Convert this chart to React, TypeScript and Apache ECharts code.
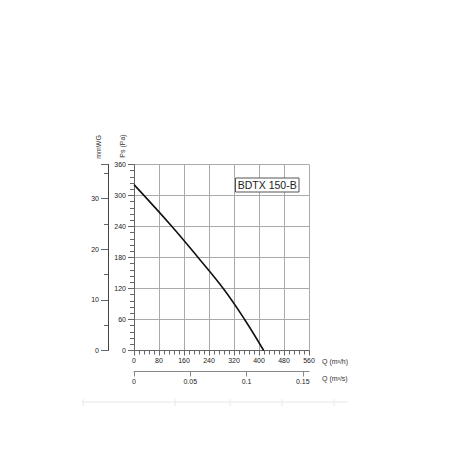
import React, { useEffect, useRef } from "react";
import * as echarts from "echarts";

const flowM3h = [0, 120, 205, 288, 354, 415];
const pressurePa = [321, 241, 180, 118, 60, 0];
const modelName = "BDTX 150-B";
const qMaxM3h = 560;
const pMaxPa = 360;
const PA_PER_MMWG = 9.80665;

const FONT = "Liberation Sans, Arial, sans-serif";

export default function App() {
  const ref = useRef<HTMLDivElement>(null);
  useEffect(() => {
    if (!ref.current) return;
    const chart = echarts.init(ref.current, undefined, { renderer: "svg" });
    const axisColor = "#666";
    const label = { color: "#222", fontSize: 7, fontFamily: FONT };
    const faint = "#e8e8e8";
    const faintTicks = [83, 175, 230, 282, 334];
    chart.setOption({
      animation: false,
      grid: { left: 134, top: 164.5, right: 141, bottom: 117.5, containLabel: false },
      xAxis: [
        {
          type: "value",
          min: 0,
          max: qMaxM3h,
          interval: 80,
          position: "bottom",
          axisLine: { show: true, onZero: false, lineStyle: { color: axisColor, width: 1 } },
          axisTick: { show: true, length: 5, lineStyle: { color: axisColor } },
          minorTick: { show: true, splitNumber: 5, length: 4, lineStyle: { color: axisColor } },
          axisLabel: { ...label, margin: 6 },
          splitLine: { show: true, lineStyle: { color: "#aaa", width: 1 } },
        },
        {
          type: "value",
          min: 0,
          max: qMaxM3h / 3600,
          interval: 0.05,
          position: "bottom",
          offset: 21,
          axisLine: { show: true, onZero: false, lineStyle: { color: "#888", width: 1 } },
          axisTick: { show: true, length: 5, lineStyle: { color: "#888" } },
          axisLabel: {
            ...label,
            margin: 6,
            showMaxLabel: false,
            formatter: (v: number) => {
              const r = Math.round(v / 0.05);
              return Math.abs(v - r * 0.05) < 1e-6 ? String(+(r * 0.05).toFixed(2)) : "";
            },
          },
          splitLine: { show: false },
        },
      ],
      yAxis: [
        {
          type: "value",
          min: 0,
          max: pMaxPa,
          interval: 60,
          position: "left",
          axisLine: { show: true, onZero: false, lineStyle: { color: axisColor, width: 1 } },
          axisTick: { show: true, length: 6, lineStyle: { color: axisColor } },
          minorTick: { show: true, splitNumber: 5, length: 4, lineStyle: { color: axisColor } },
          axisLabel: { ...label, margin: 8 },
          splitLine: { show: true, lineStyle: { color: "#aaa", width: 1 } },
        },
        {
          type: "value",
          min: 0,
          max: pMaxPa / PA_PER_MMWG,
          interval: 10,
          position: "left",
          offset: 26,
          axisLine: { show: true, onZero: false, lineStyle: { color: "#444", width: 1 } },
          axisTick: { show: true, length: 7, lineStyle: { color: axisColor } },
          minorTick: { show: true, splitNumber: 2, length: 4, lineStyle: { color: axisColor } },
          axisLabel: {
            ...label,
            margin: 9,
            showMaxLabel: false,
            formatter: (v: number) => (Math.abs(v - Math.round(v / 10) * 10) < 1e-6 ? String(Math.round(v)) : ""),
          },
          splitLine: { show: false },
        },
      ],
      series: [
        {
          type: "line",
          xAxisIndex: 0,
          yAxisIndex: 0,
          data: flowM3h.map((q, i) => [q, pressurePa[i]]),
          smooth: 0.4,
          symbol: "none",
          lineStyle: { color: "#111", width: 1.6 },
        },
      ],
      graphic: [
        {
          type: "rect",
          shape: { x: 235.5, y: 178, width: 63.5, height: 14 },
          style: { fill: "#fff", stroke: "#555", lineWidth: 1 },
          z: 10,
        },
        {
          type: "text",
          x: 267.2,
          y: 185.3,
          style: { text: modelName, fill: "#222", fontSize: 10.5, fontFamily: FONT, align: "center", verticalAlign: "middle" },
          z: 11,
        },
        {
          type: "text",
          x: 322,
          y: 361,
          style: { text: "Q (m³/h)", fill: "#333", fontSize: 7, fontFamily: FONT, align: "left", verticalAlign: "middle" },
        },
        {
          type: "text",
          x: 322,
          y: 378,
          style: { text: "Q (m³/s)", fill: "#333", fontSize: 7, fontFamily: FONT, align: "left", verticalAlign: "middle" },
        },
        {
          type: "text",
          x: 98,
          y: 147,
          rotation: Math.PI / 2,
          style: { text: "mmWG", fill: "#333", fontSize: 7, fontFamily: FONT, align: "center", verticalAlign: "middle" },
        },
        {
          type: "text",
          x: 122,
          y: 146,
          rotation: Math.PI / 2,
          style: { text: "Ps (Pa)", fill: "#333", fontSize: 7, fontFamily: FONT, align: "center", verticalAlign: "middle" },
        },
        {
          type: "line",
          shape: { x1: 82, y1: 402, x2: 348, y2: 402 },
          style: { stroke: faint, lineWidth: 1 },
        },
        ...faintTicks.map((x) => ({
          type: "line",
          shape: { x1: x, y1: 399, x2: x, y2: 406 },
          style: { stroke: faint, lineWidth: 1 },
        })),
      ],
    });
    return () => chart.dispose();
  }, []);
  return <div ref={ref} style={{ width: 450, height: 468, position: "absolute", left: 0, top: 0, background: "#fff" }} />;
}
